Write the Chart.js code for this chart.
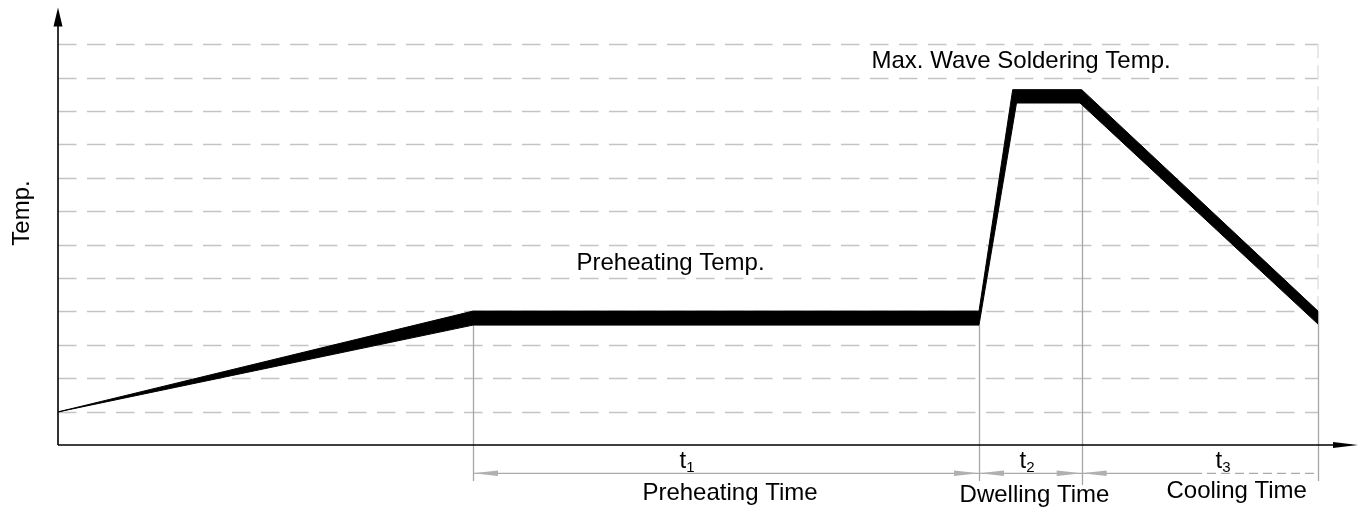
<!DOCTYPE html>
<html lang="en">
	<head>
		<meta charset="UTF-8" />
		<script src="https://cdn.jsdelivr.net/npm/chart.js@4.4.0/dist/chart.umd.min.js"></script>
		<title>Wave Soldering Profile</title>
		<style>
			html, body { margin: 0; padding: 0; background: #fff; }
			#chart { display: block; }
		</style>
	</head>
	<body>
		<canvas id="chart" width="1361" height="509"></canvas>
		<script>
			// time in arbitrary units, temperature in grid steps
			const upperTime = [0, 41.5, 92.1, 95.47, 102.37, 126];
			const upperTemp = [0.99, 4.01, 4.01, 10.64, 10.64, 4.01];
			const lowerTime = [0, 41.5, 92.1, 95.85, 102.2, 126];
			const lowerTemp = [0.99, 3.59, 3.59, 10.24, 10.24, 3.62];

			const gridLevels = [1, 2, 3, 4, 5, 6, 7, 8, 9, 10, 11, 12];
			const phaseEdges = [41.5, 92.1, 102.37, 126];
			const phaseNames = ['Preheating Time', 'Dwelling Time', 'Cooling Time'];
			const phaseSubs = ['1', '2', '3'];

			const FONT = '"Liberation Sans", Arial, sans-serif';
			const BIG = '24px ' + FONT;
			const SUB = '15px ' + FONT;

			const arrowHead = (ctx, tipX, tipY, dirX, dirY, len, half) => {
				// dir is a unit vector pointing toward the tip
				const bx = tipX - dirX * len, by = tipY - dirY * len;
				ctx.beginPath();
				ctx.moveTo(tipX, tipY);
				ctx.lineTo(bx - dirY * half, by + dirX * half);
				ctx.lineTo(bx + dirY * half, by - dirX * half);
				ctx.closePath();
				ctx.fill();
			};

			const backdrop = {
				id: 'backdrop',
				beforeDatasetsDraw(chart) {
					const { ctx, scales: { x, y } } = chart;
					const left = x.getPixelForValue(0);
					const right = x.getPixelForValue(phaseEdges[3]);
					ctx.save();

					// dashed temperature levels
					ctx.strokeStyle = '#c4c4c4';
					ctx.lineWidth = 1.3;
					ctx.setLineDash([18.5, 10.5]);
					gridLevels.forEach((v) => {
						const py = Math.round(y.getPixelForValue(v)) + 0.5;
						ctx.beginPath();
						ctx.moveTo(left, py);
						ctx.lineTo(right, py);
						ctx.stroke();
					});

					// light dashed right border above the curve end
					ctx.strokeStyle = '#dcdcdc';
					ctx.setLineDash([14, 7]);
					ctx.beginPath();
					ctx.moveTo(right, y.getPixelForValue(12));
					ctx.lineTo(right, y.getPixelForValue(upperTemp[5]));
					ctx.stroke();

					// extension lines down to the dimension line
					ctx.setLineDash([]);
					ctx.strokeStyle = '#a6a6a6';
					const starts = [lowerTemp[1], lowerTemp[2], lowerTemp[4], upperTemp[5]];
					const ends = [481, 481, 485, 481];
					phaseEdges.forEach((t, i) => {
						const px = Math.round(x.getPixelForValue(t)) + 0.5;
						ctx.beginPath();
						ctx.moveTo(px, y.getPixelForValue(starts[i]));
						ctx.lineTo(px, ends[i]);
						ctx.stroke();
					});
					ctx.restore();
				},
				afterDatasetsDraw(chart) {
					const { ctx, scales: { x, y } } = chart;
					const x0 = x.getPixelForValue(0);
					const y0 = y.getPixelForValue(0);
					ctx.save();

					// axes with arrows
					ctx.strokeStyle = '#000';
					ctx.fillStyle = '#000';
					ctx.lineWidth = 1.6;
					ctx.beginPath();
					ctx.moveTo(x0, y0);
					ctx.lineTo(chart.chartArea.right - 20, y0);
					ctx.moveTo(x0, y0);
					ctx.lineTo(x0, chart.chartArea.top + 15);
					ctx.stroke();
					arrowHead(ctx, chart.chartArea.right, y0, 1, 0, 25, 3);
					arrowHead(ctx, x0, chart.chartArea.top, 0, -1, 19, 4.5);

					// dimension line
					const dimY = 473.3;
					const px = phaseEdges.map((t) => x.getPixelForValue(t));
					ctx.strokeStyle = '#aaaaaa';
					ctx.fillStyle = '#b0b0b0';
					ctx.lineWidth = 1.3;
					ctx.beginPath();
					ctx.moveTo(px[0], dimY);
					ctx.lineTo(1193, dimY);
					ctx.stroke();
					ctx.setLineDash([9, 5]);
					ctx.beginPath();
					ctx.moveTo(1193, dimY);
					ctx.lineTo(px[3], dimY);
					ctx.stroke();
					ctx.setLineDash([]);
					arrowHead(ctx, px[0], dimY, -1, 0, 25, 2.7);
					arrowHead(ctx, px[1], dimY, 1, 0, 25, 2.7);
					arrowHead(ctx, px[1], dimY, -1, 0, 25, 2.7);
					arrowHead(ctx, px[2], dimY, 1, 0, 25, 2.7);
					arrowHead(ctx, px[2], dimY, -1, 0, 25, 2.7);

					// texts
					ctx.fillStyle = '#000';
					ctx.font = BIG;
					ctx.textAlign = 'left';
					ctx.textBaseline = 'alphabetic';
					ctx.fillText('Max. Wave Soldering Temp.', 871.5, 67.7);
					ctx.fillText('Preheating Temp.', 576.5, 270);

					ctx.textAlign = 'center';
					const nameX = [730, 1034.5, 1236.7];
					const nameY = [500, 502.3, 498.3];
					phaseNames.forEach((n, i) => ctx.fillText(n, nameX[i], nameY[i]));

					const symX = [687, 1027, 1223];
					ctx.textAlign = 'left';
					phaseSubs.forEach((s, i) => {
						ctx.font = BIG;
						const tw = ctx.measureText('t').width;
						ctx.font = SUB;
						const sw = ctx.measureText(s).width;
						const start = symX[i] - (tw + sw) / 2;
						ctx.font = BIG;
						ctx.fillText('t', start, 468.3);
						ctx.font = SUB;
						ctx.fillText(s, start + tw, 471.7);
					});

					ctx.translate(28.5, 213);
					ctx.rotate(-Math.PI / 2);
					ctx.textAlign = 'center';
					ctx.font = BIG;
					ctx.fillText('Temp.', 0, 0);
					ctx.restore();
				}
			};

			new Chart(document.getElementById('chart'), {
				type: 'line',
				data: {
					datasets: [
						{
							label: 'Profile (upper)',
							data: upperTime.map((t, i) => ({ x: t, y: upperTemp[i] })),
							borderColor: '#000',
							borderWidth: 1,
							pointRadius: 0,
							tension: 0,
							fill: false,
						},
						{
							label: 'Profile (lower)',
							data: lowerTime.map((t, i) => ({ x: t, y: lowerTemp[i] })),
							borderColor: '#000',
							backgroundColor: '#000',
							borderWidth: 1,
							pointRadius: 0,
							tension: 0,
							fill: '-1',
						}
					]
				},
				options: {
					responsive: false,
					animation: false,
					events: [],
					layout: { padding: { left: 58, right: 3, top: 7.5, bottom: 64 } },
					scales: {
						x: { type: 'linear', min: 0, max: 130, display: false },
						y: { type: 'linear', min: 0, max: 13.1, display: false }
					},
					plugins: {
						legend: { display: false },
						tooltip: { enabled: false }
					}
				},
				plugins: [backdrop]
			});
		</script>
	</body>
</html>
